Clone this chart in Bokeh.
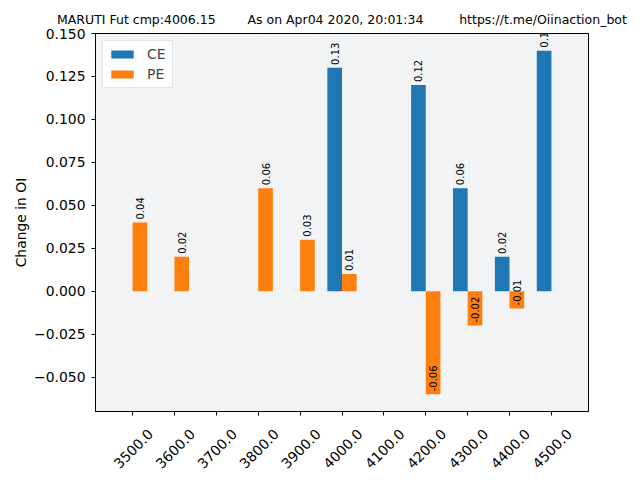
from math import pi
from bokeh.plotting import figure
from bokeh.models import (ColumnDataSource, Range1d, FixedTicker, CustomJSTickFormatter,
                          LabelSet, Legend, LinearAxis, Title)
from bokeh.core.properties import value
from bokeh.transform import dodge
from bokeh.embed import file_html
from bokeh.resources import INLINE

# ---- data ----
strikes = [3500, 3600, 3700, 3800, 3900, 4000, 4100, 4200, 4300, 4400, 4500]
tick_labels = ["3500.0", "3600.0", "3700.0", "3800.0", "3900.0", "4000.0",
               "4100.0", "4200.0", "4300.0", "4400.0", "4500.0"]
ce_change = [0, 0, 0, 0, 0, 0.13, 0, 0.12, 0.06, 0.02, 0.14]
pe_change = [0.04, 0.02, 0, 0.06, 0.03, 0.01, 0, -0.06, -0.02, -0.01, 0]
y_ticks = [-0.05, -0.025, 0.0, 0.025, 0.05, 0.075, 0.1, 0.125, 0.15]
title_left = "MARUTI Fut cmp:4006.15"
title_mid = "As on Apr04 2020, 20:01:34"
title_right = "https://t.me/Oiinaction_bot"
y_label = "Change in OI"

FONT = "DejaVu Sans"
BLUE = "#1f77b4"
ORANGE = "#ff7f0e"
NB = "\u00a0"

idx = list(range(len(strikes)))
src = ColumnDataSource(dict(idx=idx, ce=ce_change, pe=pe_change))

p = figure(output_backend="svg", toolbar_location=None,
           frame_width=493, frame_height=378,
           min_border_left=95, min_border_top=33, min_border_right=48, min_border_bottom=30,
           x_range=Range1d(-0.885, 10.885), y_range=Range1d(-0.07, 0.15))
p.background_fill_color = "#f1f3f5"
p.border_fill_color = "white"
p.outline_line_color = "black"
p.outline_line_width = 1
p.xgrid.visible = False
p.ygrid.visible = False

# header line
header = Title(text=title_left + NB * 8 + title_mid + NB * 9 + title_right,
               align="left", offset=-38.5, standoff=14,
               text_font=FONT, text_font_size="12.5px", text_font_style="normal",
               text_color="black")
p.add_layout(header, "above")

BW = 0.35
ce_r = p.vbar(x=dodge("idx", -BW / 2, range=p.x_range), top="ce", bottom=0, width=BW,
              source=src, fill_color=BLUE, line_color=None)
pe_r = p.vbar(x=dodge("idx", BW / 2, range=p.x_range), top="pe", bottom=0, width=BW,
              source=src, fill_color=ORANGE, line_color=None)

# value labels (non-zero only)
lx, ly, lt = [], [], []
for i, v in enumerate(ce_change):
    if v != 0:
        lx.append(i - BW / 2); ly.append(v); lt.append(str(v))
for i, v in enumerate(pe_change):
    if v != 0:
        lx.append(i + BW / 2); ly.append(v); lt.append(str(v))
lsrc = ColumnDataSource(dict(x=lx, y=ly, t=lt))
p.add_layout(LabelSet(x="x", y="y", text="t", source=lsrc, angle=pi / 2,
                      text_align="left", text_baseline="middle", y_offset=3,
                      text_font=value(FONT), text_font_size="10px", text_color="black"))

# axes
for ax in (p.xaxis[0], p.yaxis[0]):
    ax.axis_line_color = "black"
    ax.major_tick_line_color = "black"
    ax.major_tick_out = 4
    ax.major_tick_in = 0
    ax.minor_tick_line_color = None
    ax.major_label_text_font = FONT
    ax.major_label_text_font_size = "13.9px"
    ax.major_label_text_color = "black"

p.xaxis[0].ticker = FixedTicker(ticks=idx)
p.xaxis[0].major_label_overrides = {i: "" for i in idx}
p.xaxis[0].major_label_text_font_size = "1px"
p.xaxis[0].major_label_standoff = 0

# rotated tick labels, centred on the ticks (shifted helper range)
p.extra_x_ranges = {"lab": Range1d(-0.885 - 0.43, 10.885 - 0.43)}
lab_axis = LinearAxis(x_range_name="lab", ticker=FixedTicker(ticks=idx),
                      major_label_overrides={i: tick_labels[i] for i in idx},
                      major_label_orientation=pi / 4,
                      axis_line_color=None, major_tick_line_color=None,
                      minor_tick_line_color=None, major_tick_out=0, major_tick_in=0,
                      major_label_standoff=16,
                      major_label_text_font=FONT, major_label_text_font_size="13.9px",
                      major_label_text_color="black")
p.add_layout(lab_axis, "below")

p.yaxis.ticker = FixedTicker(ticks=y_ticks)
p.yaxis.formatter = CustomJSTickFormatter(code="""
    const s = Math.abs(tick).toFixed(3);
    return (tick < -1e-12 ? '\u2212' : '') + s;
""")
p.yaxis.major_label_standoff = 6
p.yaxis.axis_label = y_label
p.yaxis.axis_label_text_font = FONT
p.yaxis.axis_label_text_font_size = "13.9px"
p.yaxis.axis_label_text_font_style = "normal"
p.yaxis.axis_label_text_color = "black"
p.yaxis.axis_label_standoff = 2

legend = Legend(items=[("CE", [ce_r]), ("PE", [pe_r])], location="top_left")
legend.margin = 7
legend.padding = 5
legend.spacing = 4
legend.glyph_width = 28
legend.glyph_height = 10
legend.label_height = 14
legend.label_standoff = 11
legend.label_text_font = FONT
legend.label_text_font_size = "13.9px"
legend.border_line_color = "#cccccc"
legend.background_fill_color = "white"
legend.background_fill_alpha = 0.8
p.add_layout(legend)

open("out.html", "w").write(file_html(p, INLINE))
